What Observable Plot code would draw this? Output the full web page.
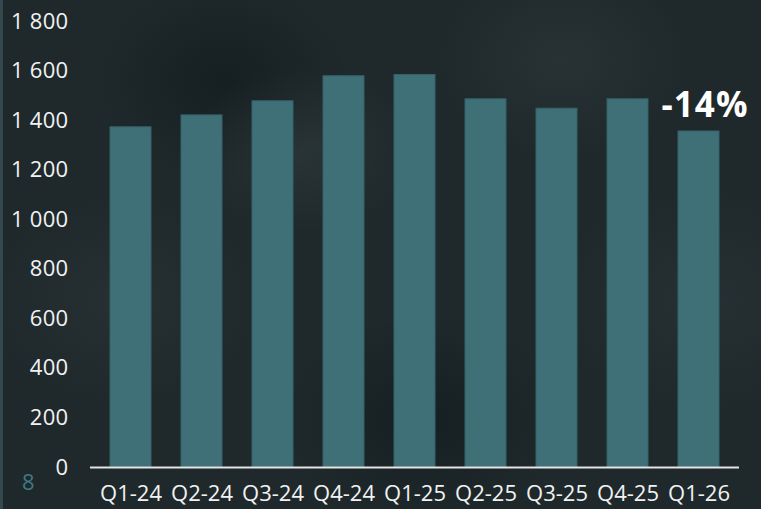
<!DOCTYPE html>
<html>
<head>
<meta charset="utf-8">
<script src="https://cdn.jsdelivr.net/npm/d3@7"></script>
<script src="https://cdn.jsdelivr.net/npm/@observablehq/plot@0.6"></script>
<style>
  html, body { margin: 0; padding: 0; }
  body { width: 761px; height: 509px; overflow: hidden; }
  #wrap {
    position: relative; width: 761px; height: 509px; box-sizing: border-box;
    border-left: 3px solid #34494d;
    background:
      radial-gradient(ellipse 160px 120px at 300px 150px, rgba(60,72,75,0.35), rgba(0,0,0,0) 70%),
      radial-gradient(ellipse 180px 140px at 560px 60px, rgba(60,72,75,0.30), rgba(0,0,0,0) 70%),
      radial-gradient(ellipse 200px 150px at 120px 300px, rgba(55,66,70,0.30), rgba(0,0,0,0) 70%),
      radial-gradient(ellipse 220px 160px at 700px 300px, rgba(55,66,70,0.30), rgba(0,0,0,0) 70%),
      radial-gradient(ellipse 200px 150px at 420px 420px, rgba(10,18,20,0.45), rgba(0,0,0,0) 70%),
      radial-gradient(ellipse 180px 140px at 220px 80px, rgba(10,18,20,0.45), rgba(0,0,0,0) 70%),
      #1f292c;
  }
  #chart { position: absolute; left: -3px; top: 0; }
  #page { position: absolute; left: 19px; top: 466px; color: #3d7a81; font: 22px "Open Sans", sans-serif; }
  .yax text { letter-spacing: 0.3px; }
  .chg text { letter-spacing: 1px; }
</style>
</head>
<body>
<div id="wrap">
  <div id="chart"></div>
  <div id="page">8</div>
</div>
<script>
const quarters = ["Q1-24","Q2-24","Q3-24","Q4-24","Q1-25","Q2-25","Q3-25","Q4-25","Q1-26"];
const values = [1373, 1421, 1478, 1579, 1584, 1486, 1448, 1486, 1356];
const yTicks = [0, 200, 400, 600, 800, 1000, 1200, 1400, 1600, 1800];
const changeLabels = [{q: "Q1-26", v: 1356, text: "-14%"}];

const data = quarters.map((q, i) => ({q, v: values[i]}));
const fmt = d => d3.format(",")(d).replace(/,/g, " ");

const chart = Plot.plot({
  width: 761,
  height: 509,
  marginLeft: 90,
  marginRight: 22,
  marginTop: 21,
  marginBottom: 42,
  style: {background: "transparent", color: "#f2f2f2", fontFamily: "'Open Sans', sans-serif", fontSize: "22px", overflow: "visible"},
  x: {domain: quarters, paddingInner: 0.424, paddingOuter: 0.22, label: null},
  y: {domain: [0, 1800], label: null},
  marks: [
    Plot.barY(data, {x: "q", y: "v", fill: "#3f7077", stroke: "#35636a", strokeWidth: 1}),
    Plot.ruleY([0], {stroke: "#e4e4e4", strokeWidth: 2}),
    Plot.axisY({ticks: yTicks, tickFormat: fmt, tickSize: 0, tickPadding: 22, fill: "#f2f2f2", fontSize: 22, label: null, className: "yax"}),
    Plot.axisX({tickSize: 0, tickPadding: 18, fill: "#f2f2f2", fontSize: 22, label: null, className: "xax"}),
    Plot.text(changeLabels, {x: "q", y: "v", text: "text", fill: "#ffffff", fontSize: 35, fontWeight: "bold", dy: -26, dx: 6, textAnchor: "middle", lineAnchor: "middle", className: "chg"})
  ]
});
document.getElementById("chart").appendChild(chart);
</script>
</body>
</html>
